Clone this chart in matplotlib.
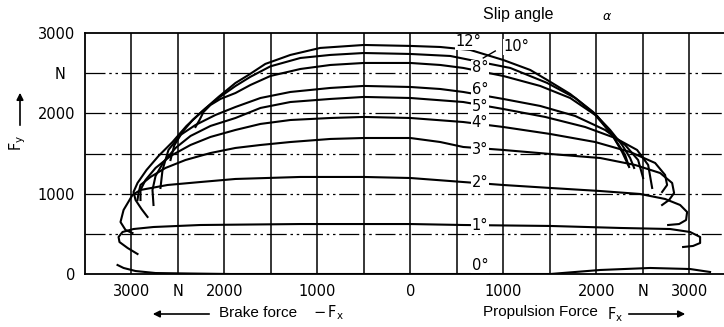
import matplotlib
matplotlib.use('Agg')
import matplotlib.pyplot as plt

# slip angle curves, Fx (N, brake < 0 < propulsion) and Fy (N)
fx_12 = [-2827, -2892, -2956, -2978, -2935, -2838, -2709, -2559, -2408, -2236, -2064, -1881, -1740,
         -1560, -1290, -970, -500, 0, 322, 645, 1000, 1290, 1473, 1720, 1967, 2150, 2279, 2365, 2408]
fy_12 = [710, 809, 921, 1021, 1133, 1295, 1469, 1643, 1843, 2029, 2204, 2378, 2478,
         2615, 2727, 2814, 2851, 2839, 2826, 2789, 2664, 2540, 2415, 2241, 2017, 1793, 1606, 1444, 1320]

fx_10 = [-2580, -2540, -2450, -2340, -2204, -2064, -1881, -1720, -1505, -1183, -860, -500, 0, 430, 752,
         1075, 1473, 1774, 2010, 2172, 2279, 2344]
fy_10 = [1419, 1600, 1770, 1920, 2060, 2191, 2340, 2455, 2585, 2689, 2727, 2751, 2739, 2714, 2639,
         2565, 2378, 2191, 1967, 1731, 1519, 1357]

fx_8 = [-2311, -2268, -2225, -2150, -2043, -1881, -1720, -1505, -1183, -860, -500, 0, 322, 570, 1000,
        1397, 1720, 1989, 2172, 2311, 2354]
fy_8 = [1830, 1917, 2017, 2104, 2179, 2253, 2353, 2465, 2552, 2602, 2627, 2627, 2602, 2565, 2465,
        2341, 2191, 1980, 1731, 1482, 1332]

fx_6 = [-2688, -2666, -2602, -2473, -2311, -2096, -1881, -1612, -1290, -860, -500, 0, 322, 570, 1000,
        1397, 1774, 2096, 2311, 2451, 2505]
fy_6 = [1071, 1295, 1544, 1731, 1855, 1980, 2079, 2191, 2266, 2316, 2341, 2328, 2303, 2266, 2179,
        2092, 1967, 1793, 1606, 1419, 1195]

fx_5 = [-2763, -2774, -2741, -2655, -2526, -2365, -2150, -1881, -1612, -1290, -860, -500, 0, 570, 1000,
        1451, 1881, 2204, 2440, 2559, 2602]
fy_5 = [859, 1046, 1220, 1394, 1569, 1718, 1843, 1942, 2067, 2141, 2179, 2204, 2191, 2141, 2054,
        1955, 1830, 1693, 1544, 1357, 1071]

fx_4 = [-2903, -2903, -2849, -2741, -2580, -2365, -2150, -1881, -1612, -1290, -860, -500, 0, 570, 1000,
        1505, 1989, 2365, 2634, 2741, 2763, 2709]
fy_4 = [921, 1046, 1170, 1320, 1469, 1606, 1706, 1793, 1868, 1917, 1942, 1955, 1942, 1892, 1830,
        1743, 1643, 1519, 1382, 1233, 1108, 1021]

fx_3 = [-2935, -2924, -2903, -2795, -2634, -2419, -2150, -1881, -1612, -1290, -860, -500, 0, 322, 570,
        1000, 1505, 2043, 2419, 2688, 2817, 2838, 2784, 2709]
fy_3 = [921, 1008, 1108, 1208, 1320, 1419, 1506, 1569, 1606, 1643, 1681, 1693, 1693, 1643, 1581,
        1544, 1494, 1444, 1357, 1257, 1133, 1008, 921, 859]

fx_2 = [-2989, -3064, -3118, -3085, -2989, -2903, -2612, -2258, -1881, -1183, -500, 0, 570, 1000, 1505,
        2043, 2473, 2741, 2903, 2978, 2967, 2892, 2774]
fy_2 = [510, 548, 647, 797, 984, 1046, 1108, 1145, 1183, 1208, 1208, 1195, 1145, 1108, 1071,
        1033, 996, 934, 859, 772, 672, 622, 610]

fx_1 = [-2935, -3042, -3129, -3139, -3096, -2978, -2763, -2258, -1183, -500, 0, 570, 1505, 2258, 2795,
        3010, 3118, 3118, 3042, 2935]
fy_1 = [249, 324, 398, 461, 523, 560, 585, 610, 622, 622, 622, 610, 598, 573, 560,
        523, 461, 386, 349, 336]

fx_0 = [-3150, -3085, -2956, -2741, -2365, -1935, 0, 1505, 2043, 2580, 3010, 3225]
fy_0 = [112, 75, 37, 12, 6, 0, 0, 0, 50, 75, 62, 25]

curves = [(fx_12, fy_12), (fx_10, fy_10), (fx_8, fy_8), (fx_6, fy_6), (fx_5, fy_5),
          (fx_4, fy_4), (fx_3, fy_3), (fx_2, fy_2), (fx_1, fy_1), (fx_0, fy_0)]

# curve labels on the propulsion side
lab_text = ['8°', '6°', '5°', '4°', '3°', '2°', '1°', '0°']
lab_y = [2565, 2291, 2079, 1880, 1544, 1145, 598, 112]

xtick_pos = [-3000, -2500, -2000, -1000, 0, 1000, 2000, 2500, 3000]
xtick_lab = ['3000', 'N', '2000', '1000', '0', '1000', '2000', 'N', '3000']
ytick_pos = [0, 1000, 2000, 2500, 3000]
ytick_lab = ['0', '1000', '2000', 'N  ', '3000']

fig = plt.figure(figsize=(7.24, 3.27), dpi=100)
ax = fig.add_axes([85/724, 1-274/327, 639/724, 241/327])
ax.set_xlim(-3500, 3375)
ax.set_ylim(0, 3000)

for gx in range(-3000, 3001, 500):
    ax.axvline(gx, color='k', lw=1.1, zorder=1)
for gy in [500, 1000, 1500, 2000, 2500]:
    ax.axhline(gy, color='k', lw=0.9, ls=(0, (16, 3, 2, 3, 2, 3)), zorder=1)

for cx, cy in curves:
    ax.plot(cx, cy, color='k', lw=1.5, zorder=3)

for t, y in zip(lab_text, lab_y):
    ax.text(660, y, t, fontsize=10.5, va='center', ha='left', zorder=4,
            bbox=dict(facecolor='white', edgecolor='none', pad=0.5))
ax.text(624, 2888, '12°', fontsize=10.5, va='center', ha='center', zorder=4,
        bbox=dict(facecolor='white', edgecolor='none', pad=0.3))
ax.plot([785, 914], [2689, 2776], color='k', lw=1.0, zorder=4)
ax.text(1140, 2826, '10°', fontsize=10.5, va='center', ha='center', zorder=4,
        bbox=dict(facecolor='white', edgecolor='none', pad=0.3))

ax.spines['right'].set_visible(False)
for s in ['left', 'top', 'bottom']:
    ax.spines[s].set_linewidth(1.3)

ax.set_xticks(xtick_pos)
ax.set_xticklabels(xtick_lab, fontsize=10.5)
ax.set_yticks(ytick_pos)
ax.set_yticklabels(ytick_lab, fontsize=10.5)
ax.tick_params(length=0, pad=7)

fig.text(483/724, 1-15/327, 'Slip angle', fontsize=11.5, family='Liberation Sans', va='center')
fig.text(607/724, 1-17/327, r'$\alpha$', fontsize=9, va='center', ha='center')

fig.text(18/724, 1-143/327, r'$\mathregular{F_y}$', fontsize=10.5, rotation=90, va='center', ha='center')
fig.patches.append(matplotlib.patches.FancyArrowPatch((20/724, 1-128/327), (20/724, 1-90/327),
                   transform=fig.transFigure, arrowstyle='-|>', mutation_scale=10, color='k', lw=1.2))

fig.text(258/724, 1-313/327, 'Brake force', fontsize=11, family='Liberation Sans', va='center', ha='center')
fig.text(313/724, 1-313/327, r'$\mathregular{-\,F_x}$', fontsize=10.5, va='center', ha='left')
fig.patches.append(matplotlib.patches.FancyArrowPatch((212/724, 1-314/327), (150/724, 1-314/327),
                   transform=fig.transFigure, arrowstyle='-|>', mutation_scale=10, color='k', lw=1.2))

fig.text(540/724, 1-312/327, 'Propulsion Force', fontsize=11, family='Liberation Sans', va='center', ha='center')
fig.text(607/724, 1-315/327, r'$\mathregular{F_x}$', fontsize=10.5, va='center', ha='left')
fig.patches.append(matplotlib.patches.FancyArrowPatch((626/724, 1-314/327), (688/724, 1-314/327),
                   transform=fig.transFigure, arrowstyle='-|>', mutation_scale=10, color='k', lw=1.2))

plt.savefig('out.png', dpi=100)
